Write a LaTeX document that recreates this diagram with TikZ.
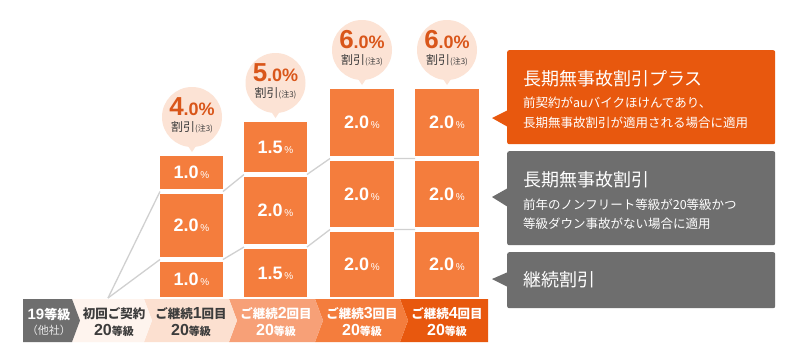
\documentclass[tikz,border=0pt]{standalone}
\usepackage{fontspec}
\setmainfont{Noto Sans CJK JP}
\newfontfamily\nm{Liberation Sans}
\definecolor{boxo}{HTML}{F47D3D}
\definecolor{dko}{HTML}{E8580E}
\definecolor{gry}{HTML}{6E6E6E}
\definecolor{bub}{HTML}{FCE3D5}
\definecolor{bubt}{HTML}{D9561A}
\definecolor{lin}{HTML}{D0D0D0}
\definecolor{segb}{HTML}{FEF4EE}
\definecolor{segc}{HTML}{FCE0D0}
\definecolor{segd}{HTML}{F7A077}
\definecolor{txt}{HTML}{3C3C3C}
\newcommand\fsz[1]{\fontsize{#1}{#1}\selectfont}
\newcommand\obox[6]{\node[obox, minimum width={#4-#2}, minimum height={#5-#3}] (#1) at ({(#2+#4)/2},{(#3+#5)/2}) {{\nm\bfseries\fsz{18}#6}{\nm\fsz{10}\,\%}};}
\newcommand\bubble[4]{%
  \fill[bub] (#2-6,#3+26) -- (#2,#3+35) -- (#2+6,#3+26) -- cycle;
  \node[bubc] (#1) at (#2,#3) {};
  \node[text=bubt, inner sep=0] (#1n) at (#2,#3-10) {{\nm\bfseries\fsz{26}#4}{\nm\bfseries\fsz{18}.0\%}};
  \node[text=txt, inner sep=0] (#1t) at (#2,#3+10.5) {{\fsz{12}割引}{\fsz{8}(注3)}};
}
\begin{document}
\begin{tikzpicture}[x=1pt,y=-1pt,
  obox/.style={fill=boxo, inner sep=0, text=white},
  bubc/.style={circle, fill=bub, minimum size=60, inner sep=0},
  conn/.style={draw=lin, line width=1.3},
  panel/.style={rounded corners=2, inner sep=0, anchor=north west, minimum width=268},
  ptitle/.style={text=white, anchor=west, inner sep=0, font=\fsz{18}},
  psub/.style={text=white, anchor=west, inner sep=0, font=\fsz{12.5}},
  btxt/.style={inner sep=0, font=\bfseries}]
\useasboundingbox (0,0) rectangle (800,360);
\fill[white] (0,0) rectangle (800,360);

% connector points
\coordinate (o) at (108,298);
\coordinate (a1L) at (160,259.5); \coordinate (b1L) at (160,191.5);
\coordinate (a1R) at (223,259.5); \coordinate (b1R) at (223,191.5);
\coordinate (a2L) at (244,247);   \coordinate (b2L) at (244,174.5);
\coordinate (a2R) at (307,247);   \coordinate (b2R) at (307,174.5);
\coordinate (a3L) at (330,229.5); \coordinate (b3L) at (330,158.5);
\coordinate (a3R) at (394,229.5); \coordinate (b3R) at (394,158.5);
\coordinate (a4L) at (415,229.5); \coordinate (b4L) at (415,158.5);
\draw[conn] (o) -- (a1L) (a1R) -- (a2L) (a2R) -- (a3L) (a3R) -- (a4L);
\draw[conn] (o) -- (b1L) (b1R) -- (b2L) (b2R) -- (b3L) (b3R) -- (b4L);

% boxes
\obox{c1a}{160}{262}{223}{297}{1.0}
\obox{c1b}{160}{194}{223}{257}{2.0}
\obox{c1c}{160}{156}{223}{189}{1.0}
\obox{c2a}{244}{249}{307}{297}{1.5}
\obox{c2b}{244}{177}{307}{244}{2.0}
\obox{c2c}{244}{122}{307}{172}{1.5}
\obox{c3a}{330}{232}{394}{297}{2.0}
\obox{c3b}{330}{161}{394}{227}{2.0}
\obox{c3c}{330}{89}{394}{156}{2.0}
\obox{c4a}{415}{232}{479}{297}{2.0}
\obox{c4b}{415}{161}{479}{227}{2.0}
\obox{c4c}{415}{89}{479}{156}{2.0}

% bubbles
\bubble{u1}{192}{117}{4}
\bubble{u2}{275.5}{83}{5}
\bubble{u3}{362}{50}{6}
\bubble{u4}{447}{50}{6}

% bottom bar
\fill[dko] (400,299) -- (488,299) -- (488,342) -- (400,342) -- (408,320.5) -- cycle;
\fill[boxo] (315,299) -- (400,299) -- (408,320.5) -- (400,342) -- (315,342) -- (323,320.5) -- cycle;
\fill[segd] (229,299) -- (315,299) -- (323,320.5) -- (315,342) -- (229,342) -- (237,320.5) -- cycle;
\fill[segc] (144,299) -- (229,299) -- (237,320.5) -- (229,342) -- (144,342) -- (152,320.5) -- cycle;
\fill[segb] (72,299) -- (144,299) -- (152,320.5) -- (144,342) -- (72,342) -- (80,320.5) -- cycle;
\fill[gry] (23,299) -- (72,299) -- (80,320.5) -- (72,342) -- (23,342) -- cycle;

\node[btxt, text=white] (s1a) at (49,314) {{\nm\fsz{15}19}{\fsz{13}等級}};
\node[inner sep=0, text=white!85!gry] (s1b) at (49,330) {\fsz{11}（他社）};
\node[btxt, text=txt] (s2a) at (114,314) {\fsz{12.5}初回ご契約};
\node[btxt, text=txt] (s2b) at (114,330) {{\nm\fsz{16}20}{\fsz{11}等級}};
\node[btxt, text=txt] (s3a) at (191,314) {{\fsz{12.5}ご継続}{\nm\fsz{16}1}{\fsz{12.5}回目}};
\node[btxt, text=txt] (s3b) at (191,330) {{\nm\fsz{16}20}{\fsz{11}等級}};
\node[btxt, text=white] (s4a) at (276,314) {{\fsz{12.5}ご継続}{\nm\fsz{16}2}{\fsz{12.5}回目}};
\node[btxt, text=white] (s4b) at (276,330) {{\nm\fsz{16}20}{\fsz{11}等級}};
\node[btxt, text=white] (s5a) at (362,314) {{\fsz{12.5}ご継続}{\nm\fsz{16}3}{\fsz{12.5}回目}};
\node[btxt, text=white] (s5b) at (362,330) {{\nm\fsz{16}20}{\fsz{11}等級}};
\node[btxt, text=white] (s6a) at (447,314) {{\fsz{12.5}ご継続}{\nm\fsz{16}4}{\fsz{12.5}回目}};
\node[btxt, text=white] (s6b) at (447,330) {{\nm\fsz{16}20}{\fsz{11}等級}};

% panels
\node[panel, fill=dko, minimum height=94] (P1) at (507,50) {};
\fill[dko] (508,110) -- (492,118) -- (508,127) -- cycle;
\node[ptitle] (P1t) at (523,79) {長期無事故割引プラス};
\node[psub] (P1s) at (523,103) {前契約がauバイクほけんであり、};
\node[psub] (P1u) at (523,123) {長期無事故割引が適用される場合に適用};

\node[panel, fill=gry, minimum height=94] (P2) at (507,151) {};
\fill[gry] (508,188) -- (492,197) -- (508,207) -- cycle;
\node[ptitle] (P2t) at (523,180) {長期無事故割引};
\node[psub] (P2s) at (523,205) {前年のノンフリート等級が20等級かつ};
\node[psub] (P2u) at (523,224) {等級ダウン事故がない場合に適用};

\node[panel, fill=gry, minimum height=56] (P3) at (507,252) {};
\fill[gry] (508,272) -- (492,279) -- (508,287) -- cycle;
\node[ptitle] (P3t) at (523,280) {継続割引};
\end{tikzpicture}
\end{document}
